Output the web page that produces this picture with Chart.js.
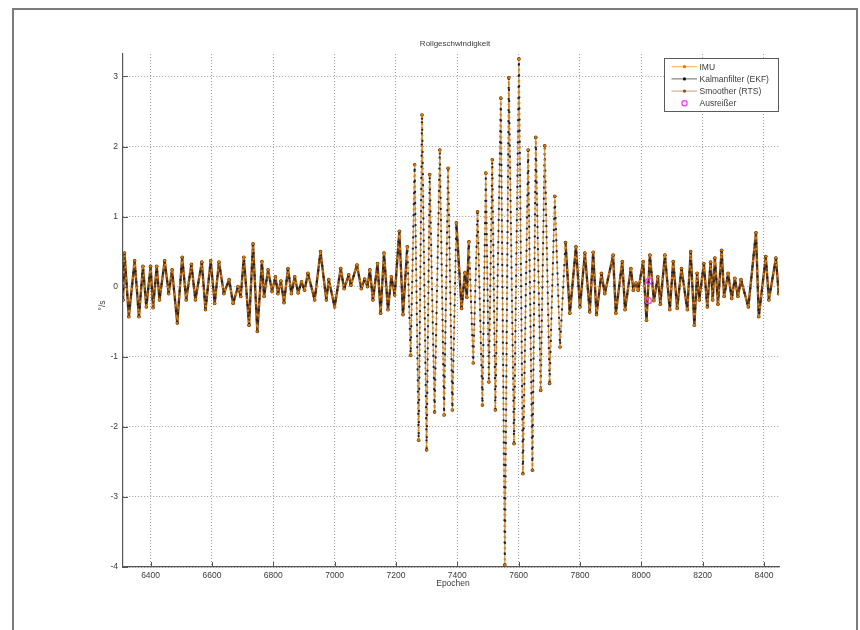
<!DOCTYPE html>
<html>
<head>
<meta charset="utf-8">
<script src="https://cdn.jsdelivr.net/npm/chart.js@4.4.1/dist/chart.umd.min.js"></script>
<style>
  html, body { margin: 0; padding: 0; background: #fff; }
  #wrap { position: relative; width: 860px; height: 630px; overflow: hidden; }
  #frame { position: absolute; left: 12px; top: 8px; width: 842px; height: 640px;
           border: 2px solid #7c7c7c; pointer-events: none; }
  canvas { position: absolute; left: 0; top: 0; }
</style>
</head>
<body>
<div id="wrap">
  <canvas id="c" width="860" height="630"></canvas>
  <div id="frame"></div>
</div>
<script>
// Roll rate (°/s) per epoch at the turning points of the signal.
// IMU, EKF and RTS estimates coincide within a pixel at this scale.
const epochs = [
  6310, 6315, 6329, 6348, 6362, 6375, 6386, 6400, 6408, 6420, 6429, 6446, 6459, 6470, 6487,
  6503, 6516, 6533, 6546, 6567, 6579, 6596, 6609, 6623, 6639, 6656, 6669, 6685, 6694, 6704,
  6721, 6734, 6748, 6763, 6770, 6783, 6796, 6807, 6815, 6825, 6835, 6848, 6859, 6870, 6881,
  6892, 6902, 6913, 6935, 6954, 6973, 6981, 7000, 7020, 7031, 7046, 7053, 7073, 7087, 7098,
  7107, 7115, 7125, 7140, 7150, 7161, 7174, 7185, 7196, 7211, 7223, 7237, 7248, 7261, 7274,
  7285, 7300, 7310, 7326, 7343, 7357, 7370, 7384, 7397, 7414, 7425, 7431, 7438, 7452, 7466,
  7482, 7493, 7503, 7514, 7524, 7542, 7555, 7568, 7585, 7601, 7614, 7631, 7645, 7656, 7672,
  7685, 7701, 7718, 7735, 7753, 7767, 7787, 7800, 7816, 7832, 7843, 7854, 7870, 7881, 7908,
  7917, 7938, 7947, 7966, 7974, 7983, 7990, 8006, 8017, 8028, 8041, 8054, 8062, 8077, 8093,
  8104, 8117, 8131, 8150, 8161, 8173, 8182, 8189, 8204, 8215, 8226, 8233, 8240, 8250, 8262,
  8270, 8283, 8295, 8305, 8315, 8325, 8349, 8374, 8383, 8406, 8416, 8439, 8448
];
const rollRate = [
  -0.19, 0.48, -0.43, 0.37, -0.43, 0.29, -0.29, 0.29, -0.30, 0.29, -0.19, 0.37, -0.10, 0.24, -0.52,
  0.42, -0.19, 0.32, -0.19, 0.35, -0.33, 0.37, -0.24, 0.35, -0.10, 0.10, -0.24, 0.00, -0.14, 0.42,
  -0.55, 0.61, -0.64, 0.36, -0.14, 0.24, -0.07, 0.14, -0.10, 0.08, -0.23, 0.26, -0.10, 0.14, -0.09,
  0.07, -0.05, 0.19, -0.19, 0.50, -0.19, 0.10, -0.29, 0.26, -0.03, 0.17, 0.02, 0.31, -0.03, 0.11,
  0.00, 0.24, -0.19, 0.33, -0.38, 0.48, -0.33, 0.14, -0.12, 0.79, -0.40, 0.57, -0.98, 1.74, -2.19,
  2.45, -2.33, 1.60, -1.79, 1.95, -1.83, 1.69, -1.76, 0.91, -0.31, 0.20, -0.15, 0.64, -1.09, 1.07,
  -1.69, 1.62, -1.36, 1.81, -1.76, 2.69, -3.97, 2.98, -2.24, 3.25, -2.67, 1.95, -2.62, 2.13, -1.48,
  2.01, -1.38, 1.29, -0.86, 0.63, -0.38, 0.57, -0.29, 0.48, -0.36, 0.49, -0.40, 0.19, -0.10, 0.45,
  -0.38, 0.36, -0.33, 0.26, -0.05, 0.05, -0.05, 0.36, -0.48, 0.45, -0.20, 0.14, -0.25, 0.45, -0.33,
  0.36, -0.31, 0.26, -0.33, 0.50, -0.55, 0.19, -0.19, 0.33, -0.29, 0.35, -0.19, 0.41, -0.25, 0.52,
  -0.14, 0.19, -0.17, 0.12, -0.14, 0.10, -0.29, 0.77, -0.43, 0.43, -0.19, 0.41, -0.10
];
// Epochs flagged as outliers
const outlierEpochs = [8023, 8025];
const outlierRate = [-0.20, 0.08];

const xTicks = [6400, 6600, 6800, 7000, 7200, 7400, 7600, 7800, 8000, 8200, 8400];
const yTicks = [-4, -3, -2, -1, 0, 1, 2, 3];

const FONT = "'Liberation Sans', Arial, sans-serif";
const TEXT = '#3a3a3a';
const AXIS = '#555';

const series = epochs.map((e, i) => ({ x: e, y: rollRate[i] }));
const outliers = outlierEpochs.map((e, i) => ({ x: e, y: outlierRate[i] }));

// long, steep strokes read as a thin light line; short wiggles as a dense dark band
const steep = ctx => Math.abs(ctx.p1.parsed.y - ctx.p0.parsed.y) > 1.3;

// Legend entries: line colour, marker colour, marker kind
const legendItems = [
  { text: 'IMU', line: 'rgb(255,172,80)', dot: '#e27800', kind: 'line' },
  { text: 'Kalmanfilter (EKF)', line: '#6a6a6a', dot: '#111', kind: 'line' },
  { text: 'Smoother (RTS)', line: 'rgb(200,160,120)', dot: '#8a4a10', kind: 'line' },
  { text: 'Ausreißer', line: null, dot: '#ff33ff', kind: 'circle' }
];

const decor = {
  id: 'decor',
  afterDraw(chart) {
    const ctx = chart.ctx;
    const ca = chart.chartArea;
    const xs = chart.scales.x, ys = chart.scales.y;
    ctx.save();

    // inward tick marks
    ctx.strokeStyle = AXIS;
    ctx.lineWidth = 1;
    ctx.beginPath();
    xTicks.forEach(v => {
      const px = Math.round(xs.getPixelForValue(v)) + 0.5;
      ctx.moveTo(px, ca.bottom); ctx.lineTo(px, ca.bottom - 5);
    });
    yTicks.forEach(v => {
      const py = Math.round(ys.getPixelForValue(v)) + 0.5;
      ctx.moveTo(ca.left, py); ctx.lineTo(ca.left + 5, py);
    });
    ctx.stroke();

    // titles
    ctx.fillStyle = TEXT;
    ctx.font = '8px ' + FONT;
    ctx.textAlign = 'center';
    ctx.textBaseline = 'middle';
    ctx.fillText('Rollgeschwindigkeit', (ca.left + ca.right) / 2 + 4, 44);
    ctx.font = '8.5px ' + FONT;
    ctx.fillText('Epochen', (ca.left + ca.right) / 2 + 2, 584);
    ctx.save();
    ctx.translate(103, (ca.top + ca.bottom) / 2 - 5);
    ctx.rotate(-Math.PI / 2);
    ctx.fillText('°/s', 0, 0);
    ctx.restore();

    // legend box
    const bx = ca.right - 115, by = ca.top + 4, bw = 114, bh = 53;
    ctx.fillStyle = '#fff';
    ctx.fillRect(bx, by, bw, bh);
    ctx.strokeStyle = '#5a5a5a';
    ctx.lineWidth = 1;
    ctx.strokeRect(bx + 0.5, by + 0.5, bw, bh);
    ctx.font = '8.5px ' + FONT;
    ctx.textAlign = 'left';
    legendItems.forEach((it, i) => {
      const ry = by + 8.7 + i * 12.2;
      const cx = bx + 20.5;
      if (it.kind === 'line') {
        ctx.strokeStyle = it.line;
        ctx.lineWidth = 1;
        ctx.beginPath();
        ctx.moveTo(bx + 7.5, ry); ctx.lineTo(bx + 33, ry);
        ctx.stroke();
        ctx.fillStyle = it.dot;
        ctx.beginPath(); ctx.arc(cx, ry, 1.6, 0, Math.PI * 2); ctx.fill();
      } else {
        ctx.strokeStyle = it.dot;
        ctx.lineWidth = 1.2;
        ctx.beginPath(); ctx.arc(cx, ry, 2.6, 0, Math.PI * 2); ctx.stroke();
      }
      ctx.fillStyle = TEXT;
      ctx.fillText(it.text, bx + 35.5, ry + 0.5);
    });
    ctx.restore();
  }
};

new Chart(document.getElementById('c'), {
  type: 'line',
  data: {
    datasets: [
      { label: 'IMU', data: series, borderColor: '#e0800e', borderWidth: 2.2,
        borderDash: [0.1, 11], borderDashOffset: 5.5, borderCapStyle: 'round', borderJoinStyle: 'round',
        pointRadius: 1.3, pointBorderWidth: 0, pointBackgroundColor: '#e27800', order: 1 },
      { label: 'Kalmanfilter (EKF)', data: series, borderColor: '#222', borderWidth: 2.3,
        borderDash: [0.1, 11], borderCapStyle: 'round', borderJoinStyle: 'round',
        pointRadius: 1.3, pointBorderWidth: 0, pointBackgroundColor: '#111', order: 2 },
      { label: 'Smoother (RTS)', data: series, borderColor: 'rgb(120,66,18)', borderWidth: 2.4,
        borderJoinStyle: 'round', borderCapStyle: 'round',
        segment: {
          borderColor: c => steep(c) ? 'rgb(200,160,118)' : 'rgb(118,64,16)',
          borderWidth: c => steep(c) ? 1.2 : 2.4
        },
        pointRadius: 1.8, pointBorderWidth: 0, pointBackgroundColor: '#6e380a', order: 3 },
      { label: 'Ausreißer', data: outliers, showLine: false, borderColor: '#ff33ff',
        pointRadius: 3, pointBorderWidth: 1.2, pointBackgroundColor: 'rgba(0,0,0,0)', order: 0 }
    ]
  },
  options: {
    responsive: false,
    animation: false,
    devicePixelRatio: 1,
    layout: { padding: { left: 0, right: 81, top: 54, bottom: 0 } },
    elements: { line: { tension: 0 } },
    plugins: { legend: { display: false }, title: { display: false }, tooltip: { enabled: false } },
    scales: {
      x: {
        type: 'linear', min: 6310, max: 8449,
        afterFit(s) { s.height = 63; },
        afterBuildTicks(s) { s.ticks = xTicks.map(v => ({ value: v })); },
        grid: { color: 'rgba(140,140,140,0.85)', lineWidth: 1, drawTicks: false },
        border: { display: true, color: AXIS, width: 1.2, dash: [1, 2] },
        ticks: { padding: 4, color: TEXT, font: { family: FONT, size: 8.5 }, maxRotation: 0,
                 autoSkip: false, includeBounds: false, callback: v => String(v) }
      },
      y: {
        type: 'linear', min: -4, max: 3.32,
        afterFit(s) { s.width = 123; },
        afterBuildTicks(s) { s.ticks = yTicks.map(v => ({ value: v })); },
        grid: { color: 'rgba(140,140,140,0.85)', lineWidth: 1, drawTicks: false },
        border: { display: true, color: AXIS, width: 1.2, dash: [1, 2] },
        ticks: { padding: 5, color: TEXT, font: { family: FONT, size: 8.5 },
                 autoSkip: false, includeBounds: false, callback: v => String(v) }
      }
    }
  },
  plugins: [decor]
});
</script>
</body>
</html>
